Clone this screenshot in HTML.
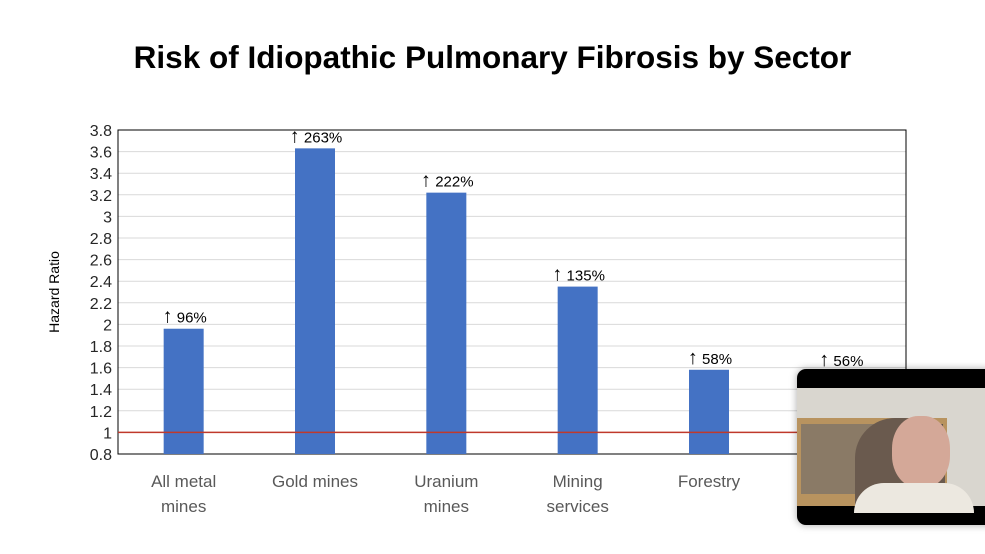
<!DOCTYPE html>
<html><head><meta charset="utf-8"><style>
body{margin:0;width:985px;height:554px;overflow:hidden;background:#fff;font-family:"Liberation Sans",sans-serif;position:relative}
#title{position:absolute;left:0;width:985px;top:39px;text-align:center;font-size:31.5px;font-weight:bold;color:#000;margin:0}
</style></head><body>
<h1 id="title">Risk of Idiopathic Pulmonary Fibrosis by Sector</h1>
<svg id="chart" width="985" height="554" style="position:absolute;left:0;top:0"></svg>
<div style="position:absolute;left:797px;top:369px;width:200px;height:156px;background:#000;border-radius:9px;box-shadow:0 0 8px rgba(0,0,0,.35);overflow:hidden">
 <div style="position:absolute;left:0;top:19px;width:188px;height:118px;background:#d9d6cf">
  <div style="position:absolute;left:0;top:30px;width:150px;height:88px;background:#b8935f"></div>
  <div style="position:absolute;left:4px;top:36px;width:80px;height:70px;background:#8a7a66"></div>
  <div style="position:absolute;left:90px;top:36px;width:56px;height:70px;background:#5a5048"></div>
  <div style="position:absolute;left:58px;top:30px;width:90px;height:88px;background:#6a5a4e;border-radius:40px 40px 0 0"></div>
  <div style="position:absolute;left:95px;top:28px;width:58px;height:72px;background:#d4a898;border-radius:45%"></div>
  <div style="position:absolute;left:57px;top:95px;width:120px;height:30px;background:#ece8e0;border-radius:30px 30px 0 0"></div>
 </div>
</div>
<script>
const categories=[["All metal","mines"],["Gold mines"],["Uranium","mines"],["Mining","services"],["Forestry"],[""]];
const values=[1.96,3.63,3.22,2.35,1.58,1.56];
const pctLabels=["96%","263%","222%","135%","58%","56%"];
const ticks=[0.8,1,1.2,1.4,1.6,1.8,2,2.2,2.4,2.6,2.8,3,3.2,3.4,3.6,3.8];
const refValue=1;
const svg=document.getElementById('chart');const NS='http://www.w3.org/2000/svg';
const X0=118,X1=906,Y0=454,Y1=130,vmin=0.8,vmax=3.8;
const y=v=>Y0-(v-vmin)/(vmax-vmin)*(Y0-Y1);
const bw=(X1-X0)/categories.length;const xc=i=>X0+bw*(i+0.5);
function mk(t,a,txt,p){const e=document.createElementNS(NS,t);for(const k in a)e.setAttribute(k,a[k]);if(txt!==undefined)e.textContent=txt;(p||svg).appendChild(e);return e;}
ticks.forEach(t=>{
 const g=mk('line',{x1:X0,x2:X1,y1:y(t),y2:y(t),stroke:'#d9d9d9','stroke-width':1});
 
 
 const l=mk('text',{x:X0-6,y:y(t)+6,'text-anchor':'end','font-size':16,fill:'#262626'},String(t));
 
 
});
const fr=mk('rect',{x:X0,y:Y1,width:X1-X0,height:Y0-Y1,fill:'none',stroke:'#000','stroke-width':1});


values.forEach((v,i)=>{
 const b=mk('rect',{x:xc(i)-20,y:y(v),width:40,height:Y0-y(v),fill:'#4472c4'});
 
 
 const t=mk('text',{x:xc(i)+1,y:y(v)-6,'text-anchor':'middle','font-size':15,fill:'#000'});
 
 
 mk('tspan',{'font-size':20,'font-weight':'bold'},'\u2191',t);
 mk('tspan',{},' '+pctLabels[i],t);
 categories[i].forEach((line,j)=>{
  const c=mk('text',{x:xc(i),y:487+j*25,'text-anchor':'middle','font-size':17,fill:'#595959'},line);
  
  
 });
});
const r=mk('line',{x1:X0,x2:X1,y1:y(refValue),y2:y(refValue),stroke:'#c0392b','stroke-width':1.5});


const at=mk('text',{x:0,y:0,transform:'translate(59,292) rotate(-90)','text-anchor':'middle','font-size':14,fill:'#000'},'Hazard Ratio');


</script>
</body></html>
